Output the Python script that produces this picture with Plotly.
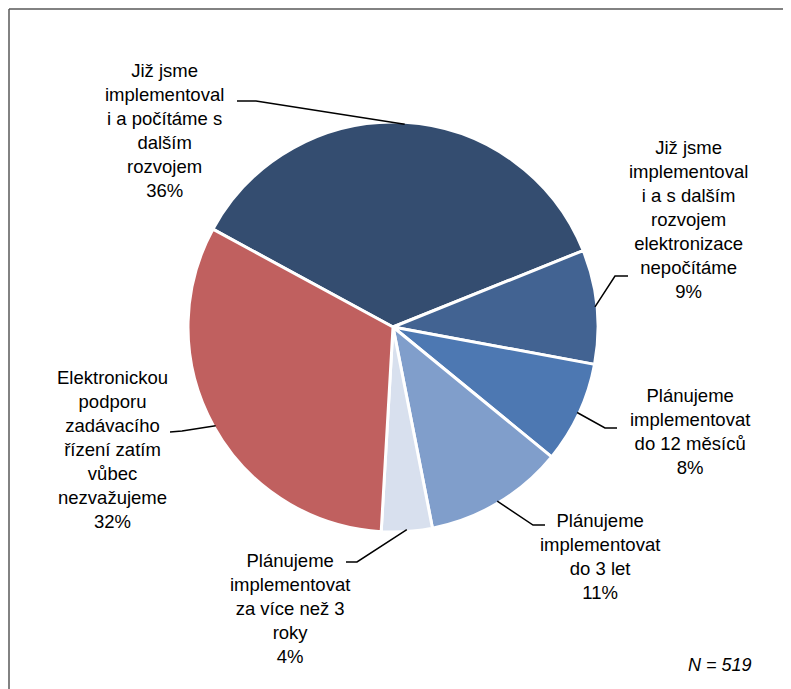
import numpy as np
import plotly.graph_objects as go

# data
labels = [
    "Již jsme<br>implementoval<br>i a počítáme s<br>dalším<br>rozvojem",
    "Již jsme<br>implementoval<br>i a s dalším<br>rozvojem<br>elektronizace<br>nepočítáme",
    "Plánujeme<br>implementovat<br>do 12 měsíců",
    "Plánujeme<br>implementovat<br>do 3 let",
    "Plánujeme<br>implementovat<br>za více než 3<br>roky",
    "Elektronickou<br>podporu<br>zadávacího<br>řízení zatím<br>vůbec<br>nezvažujeme",
]
values = [36, 9, 8, 11, 4, 32]
colors = ["#344D70", "#426392", "#4D78B2", "#809ECB", "#D8E0EE", "#C0605F"]

# page puts the figure 8px in from the corner, so work in window pixels and shift
OFF = 8
W, H = 791 - OFF, 689 - OFF
cx, cy, R = 393, 327, 205
rotation = 298.5

# label placement (window pixels): text centre, elbow of leader line, end next to text
label_pos = [(164, 131), (688, 220), (690, 431), (600, 556), (290, 608), (112, 449)]
elbow = [(256, 101), (615, 276), (605, 428), (533, 525), (357, 562), (182, 431)]
line_end = [(237, 101), (628, 276), (617, 428), (545, 525), (346, 562), (170, 432)]


def px(x, y):
    return (x - OFF) / W, 1 - (y - OFF) / H


x0, y0 = px(cx - R, cy + R)
x1, y1 = px(cx + R, cy - R)

fig = go.Figure(go.Pie(
    labels=labels,
    values=values,
    sort=False,
    direction="clockwise",
    rotation=rotation,
    marker=dict(colors=colors, line=dict(color="white", width=3)),
    textinfo="none",
    domain=dict(x=[x0, x1], y=[y0, y1]),
    showlegend=False,
))

total = sum(values)
cum = 0
shapes = []
annotations = []
for i, v in enumerate(values):
    mid = np.radians(rotation + (cum + v / 2) / total * 360)
    cum += v
    ax, ay = cx + (R - 2) * np.sin(mid), cy - (R - 2) * np.cos(mid)
    pts = [px(*line_end[i]), px(*elbow[i]), px(ax, ay)]
    path = "M {} {} L {} {} L {} {}".format(*[c for p in pts for c in p])
    shapes.append(dict(type="path", xref="paper", yref="paper", path=path,
                       line=dict(color="black", width=1.5)))
    tx, ty = px(*label_pos[i])
    annotations.append(dict(x=tx, y=ty, xref="paper", yref="paper", showarrow=False,
                            text=f"{labels[i]}<br>{v}%", align="center",
                            xanchor="center", yanchor="middle",
                            font=dict(size=18.5, color="black")))

# frame lines (top and left)
fx, fy = px(9, 9)
shapes.append(dict(type="line", xref="paper", yref="paper", x0=fx, y0=fy, x1=1, y1=fy,
                   line=dict(color="#595959", width=1.5)))
shapes.append(dict(type="line", xref="paper", yref="paper", x0=fx, y0=fy, x1=fx, y1=0,
                   line=dict(color="#595959", width=1.5)))

nx, ny = px(754, 665)
annotations.append(dict(x=nx, y=ny, xref="paper", yref="paper", showarrow=False,
                        text="<i>N = 519</i>", xanchor="right", yanchor="middle",
                        font=dict(size=18, color="black")))

fig.update_layout(
    width=W, height=H,
    margin=dict(l=0, r=0, t=0, b=0),
    paper_bgcolor="white",
    plot_bgcolor="white",
    font=dict(family="Liberation Sans, Arial, sans-serif"),
    shapes=shapes,
    annotations=annotations,
)

fig.write_html("out.html")
